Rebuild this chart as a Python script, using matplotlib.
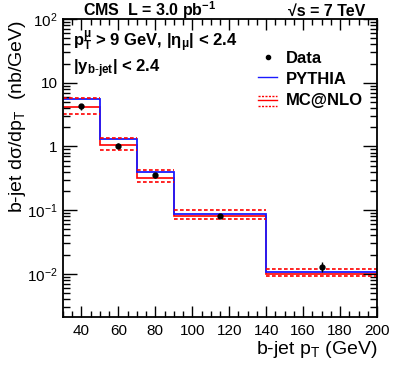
import numpy as np
import matplotlib
matplotlib.use("Agg")
import matplotlib.pyplot as plt
from matplotlib.ticker import FixedLocator, MultipleLocator, NullFormatter

plt.rcParams['font.family'] = ['Liberation Sans', 'DejaVu Sans']
plt.rcParams['mathtext.fontset'] = 'custom'
plt.rcParams['mathtext.rm'] = 'Liberation Sans'
plt.rcParams['mathtext.it'] = 'Liberation Sans:italic'
plt.rcParams['mathtext.bf'] = 'Liberation Sans:bold'

# bins in b-jet pT (GeV)
edges = [30, 50, 70, 90, 140, 200]
pythia = [5.65, 1.33, 0.397, 0.087, 0.0107]
mcnlo = [4.19, 1.05, 0.315, 0.082, 0.0101]
mcnlo_up = [5.7, 1.37, 0.427, 0.102, 0.0118]
mcnlo_down = [3.26, 0.865, 0.277, 0.0718, 0.0093]

data_x = [40, 60, 80, 115, 170]
data_y = [4.24, 1.03, 0.351, 0.082, 0.0129]
data_err = [0.45, 0.10, 0.035, 0.006, 0.0022]

fig = plt.figure(figsize=(3.98, 3.66), dpi=100)
ax = fig.add_axes([63 / 398, 1 - 317 / 366, (377 - 63) / 398, (317 - 19) / 366])

red = '#ff0000'
blue = '#1a1aff'
dash = (0, (2.2, 1.4))

ax.hlines(mcnlo_up, edges[:-1], edges[1:], colors=red, lw=1.2, linestyles=dash)
ax.hlines(mcnlo_down, edges[:-1], edges[1:], colors=red, lw=1.2, linestyles=dash)
ax.stairs(mcnlo, edges, color=red, lw=1.2, baseline=None)
ax.stairs(pythia, edges, color=blue, lw=1.3, baseline=None)
ax.errorbar(data_x, data_y, yerr=data_err, fmt='o', color='black', ms=3.5,
            elinewidth=1, capsize=0, zorder=5)

ax.set_yscale('log')
ax.set_xlim(30, 200)
ax.set_ylim(2.1e-3, 100)

ax.xaxis.set_major_locator(MultipleLocator(20))
ax.xaxis.set_minor_locator(MultipleLocator(5))
ax.yaxis.set_major_locator(FixedLocator([1e-2, 1e-1, 1, 10, 100]))
ax.set_yticklabels(['$10^{-2}$', '$10^{-1}$', '1', '10', '$10^{2}$'])
ax.yaxis.set_minor_formatter(NullFormatter())
ax.tick_params(which='both', direction='in', top=True, right=True, labelsize=11)
ax.tick_params(axis='x', which='major', length=8, width=1, pad=5)
ax.tick_params(axis='x', which='minor', length=4, width=1)
ax.tick_params(axis='y', which='major', length=10, width=1, pad=4)
ax.tick_params(axis='y', which='minor', length=5, width=1)
for s in ax.spines.values():
    s.set_linewidth(1.3)

# header
fig.text(83 / 398, 1 - 16 / 366, 'CMS  L = 3.0 pb$^{\\mathbf{-1}}$', fontsize=11.5,
         fontweight='bold', ha='left', va='baseline')
fig.text(365 / 398, 1 - 16 / 366, '\u221as = 7 TeV', fontsize=11.5,
         fontweight='bold', ha='right', va='baseline')

# selection text
fig.text(73 / 398, 1 - 47 / 366,
         '$\\mathbf{p}_{\\mathbf{T}}^{\\mathbf{\\mu}}$ > 9 GeV, |$\\mathbf{\\eta}_{\\mathbf{\\mu}}$| < 2.4',
         fontsize=12, fontweight='bold', ha='left', va='baseline')
fig.text(73 / 398, 1 - 72 / 366, '|$\\mathbf{y}_{\\mathbf{b\\text{-}jet}}$| < 2.4',
         fontsize=12, fontweight='bold', ha='left', va='baseline')


# legend, placed in pixel terms of the axes box
def fx(px):
    return (px - 63) / (377 - 63)


def fy(py):
    return (317 - py) / (317 - 19)


ax.plot([fx(268)], [fy(57)], 'o', color='black', ms=3, transform=ax.transAxes, clip_on=False)
ax.text(fx(286), fy(63), 'Data', fontsize=12, fontweight='bold', transform=ax.transAxes, va='baseline')
ax.plot([fx(258), fx(277)], [fy(77), fy(77)], color=blue, lw=1, transform=ax.transAxes)
ax.text(fx(286), fy(84), 'PYTHIA', fontsize=12, fontweight='bold', transform=ax.transAxes, va='baseline')
ax.plot([fx(258), fx(277)], [fy(96), fy(96)], color=red, lw=1, ls=(0, (1.5, 1)), transform=ax.transAxes)
ax.plot([fx(258), fx(277)], [fy(100), fy(100)], color=red, lw=1, transform=ax.transAxes)
ax.plot([fx(258), fx(277)], [fy(106), fy(106)], color=red, lw=1, ls=(0, (1.5, 1)), transform=ax.transAxes)
ax.text(fx(286), fy(105), 'MC@NLO', fontsize=12, fontweight='bold', transform=ax.transAxes, va='baseline')

# axis titles
fig.text(377 / 398, 1 - 354 / 366, 'b-jet p$_{\\mathrm{T}}$ (GeV)', fontsize=14,
         ha='right', va='baseline')
fig.text(18 / 398, 1 - 20 / 366, 'b-jet d\u03c3/dp$_{\\mathrm{T}}$  (nb/GeV)', fontsize=14,
         rotation=90, ha='center', va='top')

fig.savefig('out.png', dpi=100)
